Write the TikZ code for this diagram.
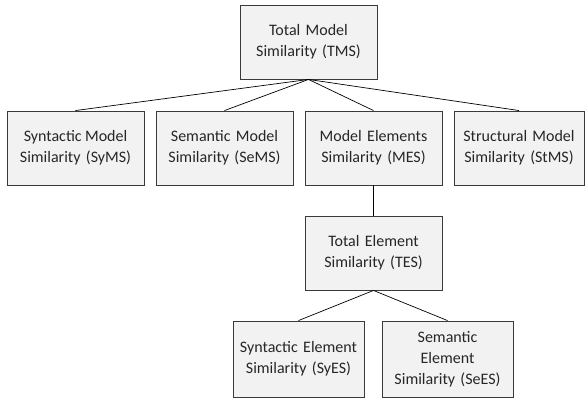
\documentclass[tikz,border=0pt]{standalone}
\usepackage{fontspec}
\setmainfont{Carlito}
\definecolor{boxfill}{HTML}{F2F2F2}
\definecolor{boxline}{HTML}{3A3A3A}
\definecolor{txt}{HTML}{262626}
\begin{document}
\begin{tikzpicture}[x=1pt,y=-1pt,
  box/.style={draw=boxline,fill=boxfill,line width=0.9pt,rectangle,inner sep=0pt,
    minimum width=137pt,minimum height=74pt,text width=#1,align=center,
    font=\fontsize{16pt}{21pt}\selectfont,text=txt},
  box/.default=130pt,
  conn/.style={draw=black,line width=0.7pt}]
\useasboundingbox (0,0) rectangle (585,398);
\node[box] (tms) at (308.5,42) {Total Model\\Similarity (TMS)};
\node[box] (syms) at (75.5,148) {Syntactic\hspace{-0.12em} Model\\Similarity (SyMS)};
\node[box] (sems) at (224.5,148) {Semantic Model\\Similarity (SeMS)};
\node[box] (mes) at (373.5,148) {Model Elements\\Similarity (MES)};
\node[box,minimum width=130pt,text width=125pt] (stms) at (519,148) {Structural Model\\Similarity (StMS)};
\node[box] (tes) at (373.5,253) {Total Element\\Similarity (TES)};
\node[box,minimum width=131pt,minimum height=76pt] (syes) at (298.5,359) {Syntactic Element\\Similarity (SyES)};
\node[box,minimum width=131pt,minimum height=76pt] (sees) at (447.5,359) {Semantic\\Element\\Similarity (SeES)};
\draw[conn] (tms.south) -- (syms.north);
\draw[conn] (tms.south) -- (sems.north);
\draw[conn] (tms.south) -- (mes.north);
\draw[conn] (tms.south) -- (stms.north);
\draw[conn] (mes.south) -- (tes.north);
\draw[conn] (tes.south) -- (syes.north);
\draw[conn] (tes.south) -- (sees.north);
\end{tikzpicture}
\end{document}
